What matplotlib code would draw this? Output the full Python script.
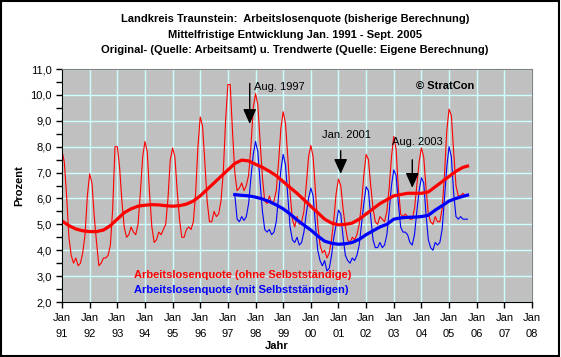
import matplotlib
matplotlib.use("Agg")
import matplotlib.pyplot as plt
from matplotlib.patches import Rectangle
import numpy as np

plt.rcParams['font.family'] = ['Liberation Sans', 'DejaVu Sans']

# Monatswerte Arbeitslosenquote ohne Selbststaendige, Jan 1991 - Sep 2005
red_raw = [
    7.85, 7.4, 6.1, 4.5, 3.8, 3.5, 3.7, 3.4, 3.5, 3.9, 4.6, 6.1,      # 1991
    6.95, 6.6, 5.3, 4.3, 3.4, 3.5, 3.7, 3.7, 3.8, 4.2, 5.6, 8.0,      # 1992
    8.0, 7.2, 5.9, 4.9, 4.5, 4.6, 4.9, 4.7, 4.6, 5.0, 6.2, 7.6,       # 1993
    8.2, 7.8, 6.2, 4.9, 4.3, 4.4, 4.7, 4.6, 4.8, 5.0, 6.0, 7.5,       # 1994
    7.95, 7.6, 6.3, 5.2, 4.5, 4.5, 4.8, 4.9, 4.8, 5.1, 6.2, 8.0,      # 1995
    9.15, 8.8, 7.4, 5.9, 5.1, 5.1, 5.5, 5.3, 5.4, 5.9, 7.0, 9.0,      # 1996
    10.4, 10.4, 8.6, 7.0, 6.3, 6.4, 6.6, 6.3, 6.5, 6.9, 8.0, 9.5,     # 1997
    10.05, 9.6, 8.2, 6.8, 5.9, 5.8, 6.1, 5.8, 5.9, 6.3, 7.4, 8.7,     # 1998
    9.35, 8.9, 7.6, 6.2, 5.2, 4.9, 5.3, 5.0, 5.1, 5.5, 6.5, 7.6,      # 1999
    8.05, 7.6, 6.3, 5.0, 4.2, 3.9, 4.0, 3.7, 3.9, 4.4, 5.2, 6.2,      # 2000
    6.75, 6.5, 5.6, 4.9, 4.4, 4.3, 4.5, 4.4, 4.6, 5.0, 5.8, 6.9,      # 2001
    7.7, 7.5, 6.5, 5.6, 5.1, 5.0, 5.3, 5.2, 5.1, 5.5, 6.4, 7.6,       # 2002
    8.4, 7.9, 6.4, 5.4, 5.3, 5.4, 5.3, 5.2, 5.2, 5.6, 6.5, 7.4,       # 2003
    7.95, 7.6, 6.4, 5.4, 5.1, 5.0, 5.3, 5.1, 5.1, 5.6, 6.9, 8.6,      # 2004
    9.45, 9.2, 7.8, 6.5, 6.1, 6.1, 6.2, 6.1, 6.1,                     # 2005
]

# Monatswerte mit Selbststaendigen, Apr 1997 - Sep 2005
blue_raw = [
    6.15, 5.2, 5.1, 5.3, 5.15, 5.3, 5.8, 6.8, 7.7,                    # 1997
    8.2, 7.8, 6.6, 5.5, 4.8, 4.7, 4.8, 4.6, 4.7, 5.1, 6.1, 7.1,       # 1998
    7.7, 7.3, 6.1, 4.9, 4.4, 4.3, 4.5, 4.2, 4.3, 4.7, 5.4, 6.0,       # 1999
    6.4, 6.1, 5.0, 4.0, 3.6, 3.4, 3.6, 3.2, 3.3, 3.8, 4.5, 5.0,       # 2000
    5.55, 5.4, 4.5, 3.8, 3.6, 3.5, 3.7, 3.6, 3.8, 4.2, 5.0, 5.8,      # 2001
    6.45, 6.3, 5.3, 4.4, 4.1, 4.1, 4.3, 4.1, 4.2, 4.6, 5.5, 6.5,      # 2002
    7.1, 6.9, 5.8, 4.9, 4.7, 4.7, 4.6, 4.3, 4.2, 4.6, 5.5, 6.3,       # 2003
    6.8, 6.6, 5.4, 4.4, 4.1, 4.0, 4.3, 4.2, 4.3, 4.8, 6.0, 7.2,       # 2004
    8.0, 7.6, 6.2, 5.3, 5.2, 5.3, 5.2, 5.2, 5.2,                      # 2005
]

# Trendwerte (quartalsweise Jan/Apr/Jul/Okt, letzter Wert Sep 2005)
red_trend = [
    5.13, 4.95, 4.82, 4.75,  4.72, 4.72, 4.78, 4.95,  5.2, 5.45, 5.6, 5.7,
    5.74, 5.76, 5.75, 5.72,  5.7, 5.72, 5.78, 5.9,  6.1, 6.35, 6.6, 6.85,
    7.1, 7.35, 7.48, 7.45,  7.32, 7.2, 7.05, 6.88,  6.65, 6.42, 6.2, 5.95,
    5.7, 5.45, 5.2, 5.05,  4.98, 5.0, 5.05, 5.2,  5.4, 5.6, 5.8, 5.95,
    6.1, 6.15, 6.2, 6.2,  6.2, 6.25, 6.45, 6.65,  6.85, 7.05, 7.2, 7.25,
]
blue_trend = [
    6.15, 6.12, 6.1,  6.05, 5.98, 5.88, 5.75,  5.6, 5.4, 5.17, 4.97,
    4.78, 4.55, 4.35, 4.27,  4.23, 4.25, 4.3, 4.42,  4.6, 4.75, 4.9, 5.0,
    5.2, 5.25, 5.27, 5.28,  5.3, 5.35, 5.55, 5.72,  5.9, 6.0, 6.08, 6.13,
]

years = list(range(1991, 2009))
year_labels = ["Jan\n%02d" % (y % 100) for y in years]
y_ticks = [2, 3, 4, 5, 6, 7, 8, 9, 10, 11]

red_x = 1991 + np.arange(len(red_raw)) / 12
blue_x = 1997 + 3 / 12 + np.arange(len(blue_raw)) / 12
red_trend_x = np.append(1991 + np.arange(len(red_trend) - 1) * 0.25, 2005 + 8 / 12)
blue_trend_x = np.append(1997.25 + np.arange(len(blue_trend) - 1) * 0.25, 2005 + 8 / 12)

fig = plt.figure(figsize=(5.61, 3.57), dpi=100)
ax = fig.add_axes([62 / 561, 1 - 302 / 357, 470 / 561, 233 / 357])
ax.set_facecolor("#c0c0c0")

ax.plot(red_x, red_raw, color="#ff0000", lw=0.8)
ax.plot(blue_x, blue_raw, color="#0000ff", lw=0.8)
ax.plot(red_trend_x, red_trend, color="#ff0000", lw=2.3)
ax.plot(blue_trend_x, blue_trend, color="#0000ff", lw=2.3)

ax.set_xlim(1991, 2008)
ax.set_ylim(2, 11)
ax.set_xticks(years)
ax.set_xticklabels(year_labels, fontsize=8, linespacing=1.75)
ax.set_yticks(y_ticks)
ax.set_yticklabels([("%.1f" % v).replace(".", ",") for v in y_ticks], fontsize=8)
ax.set_yticks(np.arange(2, 11.01, 0.5), minor=True)
ax.tick_params(axis="both", which="both", direction="out", length=4, width=1, color="black")
ax.tick_params(axis="x", pad=4)
ax.grid(True, which="major", color="#ccffff", lw=1)
ax.set_axisbelow(True)
for s in ["top", "right"]:
    ax.spines[s].set_color("#808080")
for s in ["left", "bottom"]:
    ax.spines[s].set_color("black")

# Beschriftungen
ax.text(2005.9, 10.34, "© StratCon", fontsize=8, fontweight="bold", ha="right", va="center")
ax.text(1993.6, 3.04, "Arbeitslosenquote (ohne Selbstständige)", color="#ff0000",
        fontsize=8, fontweight="bold", va="center")
ax.text(1993.6, 2.46, "Arbeitslosenquote (mit Selbstständigen)", color="#0000ff",
        fontsize=8, fontweight="bold", va="center")

arrow = dict(arrowstyle="-|>,head_length=0.9,head_width=0.4", color="black", lw=1)
ax.text(1997.95, 10.29, "Aug. 1997", fontsize=8, va="center")
ax.annotate("", xy=(1997.79, 8.77), xytext=(1997.79, 10.55), arrowprops=arrow)
ax.text(2000.4, 8.45, "Jan. 2001", fontsize=8, va="center")
ax.annotate("", xy=(2001.08, 6.84), xytext=(2001.08, 7.95), arrowprops=arrow)
ax.text(2002.95, 8.19, "Aug. 2003", fontsize=8, va="center")
ax.annotate("", xy=(2003.67, 6.3), xytext=(2003.67, 7.6), arrowprops=arrow)

ax.set_ylabel("Prozent", fontsize=8, fontweight="bold", labelpad=4)
fig.text(277 / 561, 1 - 346 / 357, "Jahr", fontsize=8, fontweight="bold", ha="center", va="center")

titles = ["Landkreis Traunstein:  Arbeitslosenquote (bisherige Berechnung)",
          "Mittelfristige Entwicklung Jan. 1991 - Sept. 2005",
          "Original- (Quelle: Arbeitsamt) u. Trendwerte (Quelle: Eigene Berechnung)"]
for i, t in enumerate(titles):
    fig.text(295 / 561, 1 - (19 + 15.5 * i) / 357, t, fontsize=8, fontweight="bold",
             ha="center", va="center")

fig.patches.append(Rectangle((0.002, 0.003), 0.995, 0.994, transform=fig.transFigure,
                             fill=False, edgecolor="black", lw=1.5))

fig.savefig("out.png", dpi=100)
